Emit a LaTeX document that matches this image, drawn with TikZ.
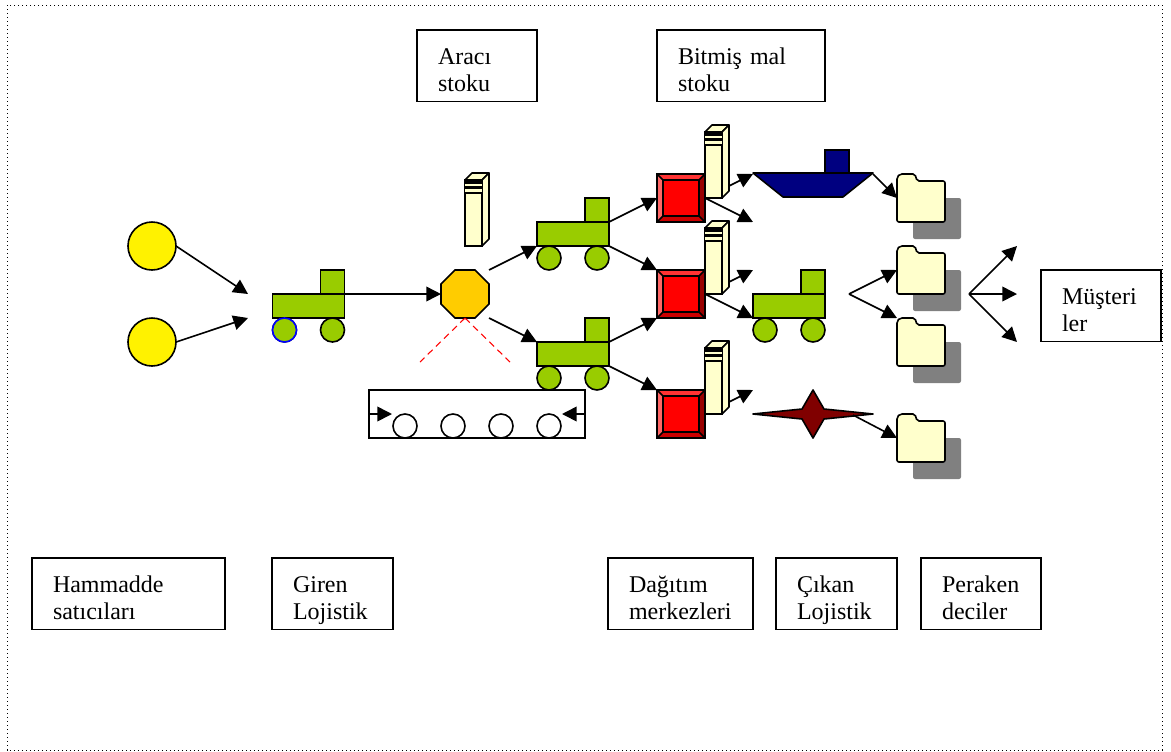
\documentclass[tikz,border=0pt]{standalone}
\usepackage{fontspec}
\setmainfont{Liberation Serif}
\usepackage{xcolor}
\usetikzlibrary{arrows.meta, shapes.geometric}

\definecolor{cartgreen}{HTML}{99CC00}
\definecolor{huborange}{HTML}{FFCC00}
\definecolor{paper}{HTML}{FFFFCC}
\definecolor{shipblue}{HTML}{000080}
\definecolor{starred}{HTML}{800000}

\newcommand{\twolines}[2]{\rule{0pt}{25.9pt}#1\\#2\rule[-7.5pt]{0pt}{7.5pt}}

\begin{document}
\begin{tikzpicture}[
x=0.75pt, y=-0.75pt,
line width=1.2pt,
every node/.style={font=\fontsize{18}{20.25}\selectfont},
box/.style={draw, rectangle, anchor=north west, align=left, inner xsep=15.75pt, inner ysep=0pt, outer sep=0pt, text width=#1*0.75pt-31.5pt},
supplier/.style={draw, circle, fill=yellow, minimum size=36pt, inner sep=0pt, outer sep=0pt},
roller/.style={draw, circle, fill=white, minimum size=18pt, inner sep=0pt, outer sep=0pt},
hubstyle/.style={draw, regular polygon, regular polygon sides=8, fill=huborange, minimum size=39pt, inner sep=0pt, outer sep=0pt},
beltbox/.style={draw, rectangle, minimum width=162pt, minimum height=36pt, inner sep=0pt, outer sep=0pt},
arr/.style={-{Triangle[length=11pt, width=11pt]}},
reddash/.style={red, line width=0.8pt, dash pattern=on 5pt off 3.5pt},
cart/.pic={
  \draw[fill=cartgreen] (48,-24) rectangle (72,0);
  \draw[fill=cartgreen] (0,0) rectangle (72,24);
  \draw[fill=cartgreen] (12,36) circle [radius=12];
  \draw[fill=cartgreen] (60,36) circle [radius=12];
  \coordinate (-nw) at (0,0);
  \coordinate (-ne) at (72,0);
  \coordinate (-sw) at (0,24);
  \coordinate (-se) at (72,24);
},
block/.pic={
  \fill[red!80!white] (0,0) -- (48,0) -- (42,6) -- (6,6) -- cycle;
  \fill[red!60!white] (0,0) -- (6,6) -- (6,42) -- (0,48) -- cycle;
  \fill[red!60!black] (48,0) -- (48,48) -- (42,42) -- (42,6) -- cycle;
  \fill[red!80!black] (0,48) -- (6,42) -- (42,42) -- (48,48) -- cycle;
  \draw (0,0) -- (6,6) (48,0) -- (42,6) (0,48) -- (6,42) (48,48) -- (42,42);
  \draw[fill=red] (6,6) rectangle (42,42);
  \draw (0,0) rectangle (48,48);
  \coordinate (-nw) at (0,0);
  \coordinate (-w) at (0,24);
  \coordinate (-sw) at (0,48);
},
server/.pic={
  \draw[fill=paper, line join=round] (0,0) -- (7,-7) -- (24,-7) -- (17,0) -- cycle;
  \draw[fill=paper, line join=round] (17,0) -- (24,-7) -- (24,59) -- (17,66) -- cycle;
  \draw[fill=paper] (0,0) rectangle (17,66);
  \fill[black] (0,0) rectangle (17,14);
  \fill[paper] (0,4) rectangle (17,6);
  \fill[paper] (0,9) rectangle (17,11.5);
  \coordinate (-base) at (0,66);
  \coordinate (-side) at (24,54);
},
folder/.pic={
  \fill[gray, rounded corners=1.5pt] (16,24) -- (64,24) -- (64,65) -- (16,65) -- cycle;
  \draw[fill=paper, rounded corners=1.5pt] (0,48) -- (0,3) -- (3,0) -- (18,0) -- (20,7) -- (48,7) -- (48,48) -- cycle;
  \coordinate (-nw) at (0,0);
  \coordinate (-w) at (0,24);
}
]

\useasboundingbox (0,0) rectangle (1171,751);
\draw[line width=0.75pt, dash pattern=on 1.1pt off 1.9pt] (7,5) rectangle (1162,750);

% labels
\node[box=120] (aracistok) at (417,30) {\twolines{Aracı}{stoku}};
\node[box=168] (bitmisstok) at (657,30) {\twolines{Bitmiş mal}{stoku}};
\node[box=120] (musteri) at (1041,270) {\twolines{Müşteri}{ler}};
\node[box=193] (hammadde) at (32,558) {\twolines{Hammadde}{satıcıları}};
\node[box=121] (giren) at (272,558) {\twolines{Giren}{Lojistik}};
\node[box=145] (dagitim) at (608,558) {\twolines{Dağıtım}{merkezleri}};
\node[box=121] (cikan) at (776,558) {\twolines{Çıkan}{Lojistik}};
\node[box=120] (perakende) at (921,558) {\twolines{Peraken}{deciler}};

% suppliers and carts
\node[supplier] (sup1) at (152,246) {};
\node[supplier] (sup2) at (152,342) {};
\pic (cart1) at (272.5,294) {cart};
\draw[draw=blue, fill=cartgreen] (284.5,330) circle [radius=12];
\pic (cart2) at (537,222) {cart};
\pic (cart3) at (537,342) {cart};
\pic (cart4) at (753,294) {cart};

\node[hubstyle] (hub) at (465,294) {};
\pic (srv0) at (465,180) {server};

% conveyor
\node[beltbox] (belt) at (477,414) {};
\node[roller] (roll1) at (405,426) {};
\node[roller] (roll2) at (453,426) {};
\node[roller] (roll3) at (501,426) {};
\node[roller] (roll4) at (549,426) {};

% distribution centres
\pic (dc1) at (657,174) {block};
\pic (dc2) at (657,270) {block};
\pic (dc3) at (657,390) {block};
\pic (srv1) at (705,132) {server};
\pic (srv2) at (705,228) {server};
\pic (srv3) at (705,348) {server};

% ship and star
\draw[fill=shipblue] (825,150) rectangle (849,173);
\draw[fill=shipblue, line join=round] (753,173) -- (873,173) -- (843,197) -- (783,197) -- cycle;
\draw[fill=starred, line join=round] (753,414) -- (802,409) -- (813,390) -- (824,409) -- (873,414) -- (824,419) -- (813,438) -- (802,419) -- cycle;

% retailers
\pic (shop1) at (897,174) {folder};
\pic (shop2) at (897,246) {folder};
\pic (shop3) at (897,318) {folder};
\pic (shop4) at (897,414) {folder};

% free ends
\coordinate (in1) at (248,294);
\coordinate (in2) at (248,318);
\coordinate (hubne) at (489,270);
\coordinate (hubse) at (489,318);
\coordinate (dashl) at (420,362);
\coordinate (dashr) at (510,362);
\coordinate (beltl) at (392,414);
\coordinate (beltr) at (562,414);
\coordinate (bow) at (753,174);
\coordinate (open1) at (753,222);
\coordinate (open2) at (753,270);
\coordinate (open3) at (753,390);
\coordinate (stern) at (873,174);
\coordinate (startail) at (853,415);
\coordinate (fork1) at (849,294);
\coordinate (fork2) at (969,294);
\coordinate (cust1) at (1017,246);
\coordinate (cust2) at (1017,294);
\coordinate (cust3) at (1017,342);

\draw[arr] (sup1.east) -- (in1);
\draw[arr] (sup2.east) -- (in2);
\draw[arr] (cart1-ne) -- (hub.west);
\draw[arr] (hubne) -- (cart2-sw);
\draw[arr] (hubse) -- (cart3-nw);
\draw[reddash] (hub.south) -- (dashl);
\draw[reddash] (hub.south) -- (dashr);
\draw[arr] (belt.west) -- (beltl);
\draw[arr] (belt.east) -- (beltr);
\draw[arr] (cart2-ne) -- (dc1-w);
\draw[arr] (cart2-se) -- (dc2-nw);
\draw[arr] (cart3-ne) -- (dc2-sw);
\draw[arr] (cart3-se) -- (dc3-nw);
\draw[arr] (srv1-side) -- (bow);
\draw[arr] (srv1-base) -- (open1);
\draw[arr] (srv2-side) -- (open2);
\draw[arr] (srv2-base) -- (cart4-sw);
\draw[arr] (srv3-side) -- (open3);
\draw[arr] (stern) -- (shop1-w);
\draw[arr] (fork1) -- (shop2-w);
\draw[arr] (fork1) -- (shop3-nw);
\draw[arr] (startail) -- (shop4-w);
\draw[arr] (fork2) -- (cust1);
\draw[arr] (fork2) -- (cust2);
\draw[arr] (fork2) -- (cust3);

\end{tikzpicture}
\end{document}
